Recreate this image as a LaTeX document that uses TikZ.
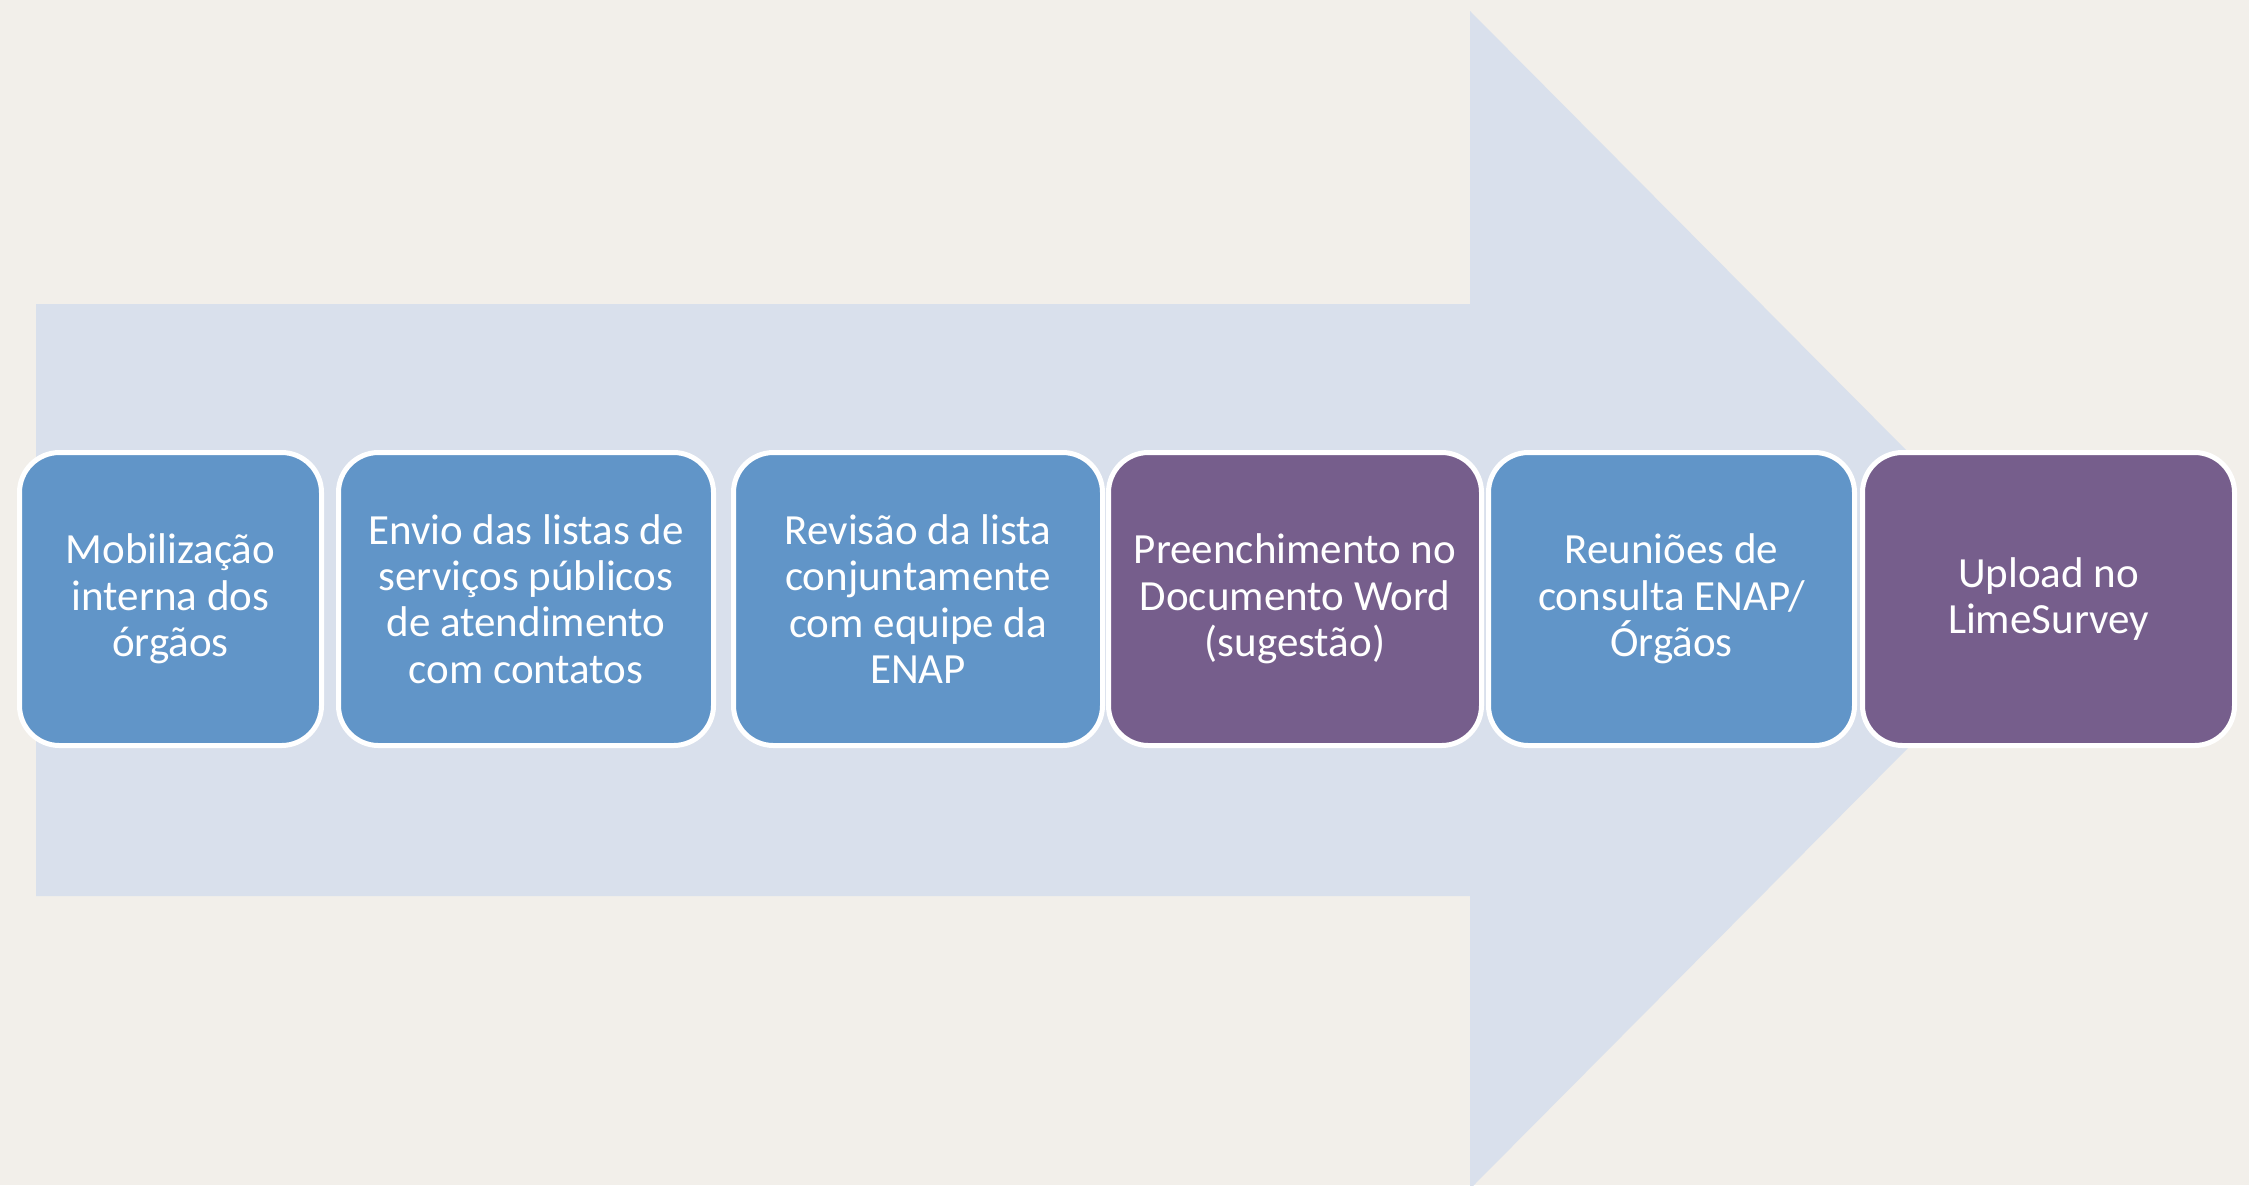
\documentclass[tikz,border=0pt]{standalone}
\usepackage{fontspec}
\setmainfont{Carlito}
\definecolor{bg}{HTML}{F2EFEA}
\definecolor{arrowfill}{HTML}{D9E0EC}
\definecolor{stepblue}{HTML}{6195C8}
\definecolor{steppurple}{HTML}{765E8C}
\begin{document}
\begin{tikzpicture}[x=0.5pt,y=-0.5pt,
  stepbox/.style={draw=white, line width=2.5pt, rounded corners=20pt, text=white, align=center,
    inner sep=0pt, outer sep=0pt, minimum height=146.5pt, font=\fontsize{21.5}{23.2}\selectfont},
  bluebox/.style={stepbox, fill=stepblue},
  purplebox/.style={stepbox, fill=steppurple}]
\fill[bg] (0,0) rectangle (2249,1185);
\useasboundingbox (0,0) rectangle (2249,1185);
\fill[arrowfill] (36,304) -- (1470,304) -- (1470,11) -- (2055,600) -- (1470,1189) -- (1470,896) -- (36,896) -- cycle;
\node[bluebox, minimum width=151pt] (b1) at (170.5,599) {Mobilização\\interna dos\\órgãos};
\node[bluebox, minimum width=187.5pt] (b2) at (526,599) {Envio das listas de\\serviços públicos\\de atendimento\\com contatos};
\node[bluebox, minimum width=184.5pt] (b3) at (918,599) {Revisão da lista\\conjuntamente\\com equipe da\\ENAP};
\node[purplebox, minimum width=186.5pt] (b4) at (1295,599) {Preenchimento no\\Documento Word\\(sugestão)};
\node[bluebox, minimum width=183pt] (b5) at (1671.5,599) {Reuniões de\\consulta ENAP/\\Órgãos};
\node[purplebox, minimum width=186pt] (b6) at (2048.5,599) {Upload no\\LimeSurvey};
\end{tikzpicture}
\end{document}
